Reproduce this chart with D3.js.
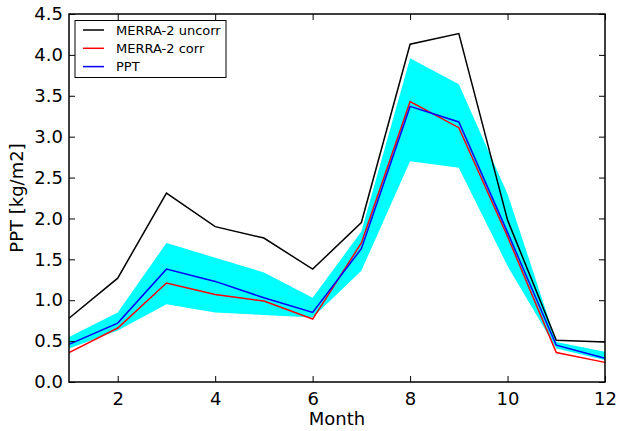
<!DOCTYPE html>
<html><head><meta charset="utf-8">
<script src="https://cdn.jsdelivr.net/npm/d3@7"></script>
<style>body{margin:0;background:#fff}svg{display:block}text{font-family:"DejaVu Sans",sans-serif}</style>
</head><body>
<svg id="c" width="620" height="431"></svg>
<script>
const months = [1,2,3,4,5,6,7,8,9,10,11,12];
const uncorr = [0.78,1.27,2.31,1.90,1.76,1.38,1.95,4.13,4.26,1.98,0.51,0.49];
const corr   = [0.36,0.66,1.21,1.07,0.99,0.77,1.70,3.43,3.11,1.78,0.36,0.24];
const ppt    = [0.46,0.72,1.38,1.23,1.03,0.85,1.63,3.37,3.18,1.83,0.45,0.29];
const bandHi = [0.55,0.85,1.70,1.52,1.34,1.03,1.84,3.96,3.64,2.30,0.49,0.37];
const bandLo = [0.41,0.63,0.95,0.85,0.82,0.79,1.36,2.70,2.62,1.42,0.41,0.27];
const xTicks = [2,4,6,8,10,12];
const yTicks = [0,0.5,1,1.5,2,2.5,3,3.5,4,4.5];
const legendItems = [["MERRA-2 uncorr","#000"],["MERRA-2 corr","#ff0000"],["PPT","#0000ff"]];

const L=69,R=605,T=14,B=382;
const svg=d3.select("#c");
const x=d3.scaleLinear().domain([1,12]).range([L,R]);
const y=d3.scaleLinear().domain([0,4.5]).range([B,T]);

svg.append("path").datum(months.map((m,i)=>i))
  .attr("d",d3.area().x(i=>x(months[i])).y0(i=>y(bandLo[i])).y1(i=>y(bandHi[i])))
  .attr("fill","#00ffff");

const line=arr=>d3.line().x((d,i)=>x(months[i])).y(d=>y(d))(arr);
[[uncorr,"#000"],[corr,"#ff0000"],[ppt,"#0000ff"]].forEach(([a,c])=>{
  svg.append("path").attr("d",line(a)).attr("fill","none").attr("stroke",c).attr("stroke-width",1.5).attr("stroke-linejoin","miter");
});

const ax=(g,axis)=>{g.call(axis);g.select(".domain").remove();g.selectAll("line").attr("stroke","#000").attr("stroke-width",1);};
svg.append("g").attr("transform",`translate(0,${B})`).call(g=>ax(g,d3.axisBottom(x).tickValues(xTicks).tickSize(-6).tickPadding(10).tickFormat(d3.format("d"))))
  .selectAll("text").attr("font-size",18).attr("fill","#000");
svg.append("g").attr("transform",`translate(0,${T})`).call(g=>ax(g,d3.axisTop(x).tickValues(xTicks).tickSize(-6).tickFormat("")));
svg.append("g").attr("transform",`translate(${L},0)`).call(g=>ax(g,d3.axisLeft(y).tickValues(yTicks).tickSize(-6).tickPadding(6).tickFormat(d3.format(".1f"))))
  .selectAll("text").attr("font-size",18).attr("fill","#000");
svg.append("g").attr("transform",`translate(${R},0)`).call(g=>ax(g,d3.axisRight(y).tickValues(yTicks).tickSize(-6).tickFormat("")));
svg.selectAll("g text").attr("font-family","DejaVu Sans");

svg.append("rect").attr("x",L).attr("y",T).attr("width",R-L).attr("height",B-T)
  .attr("fill","none").attr("stroke","#000").attr("stroke-width",1.5);

svg.append("text").attr("x",(L+R)/2).attr("y",425).attr("text-anchor","middle").attr("font-size",18).text("Month");
svg.append("text").attr("transform",`translate(23,${(T+B)/2}) rotate(-90)`).attr("text-anchor","middle").attr("font-size",18).text("PPT [kg/m2]");

const lg=svg.append("g");
lg.append("rect").attr("x",75).attr("y",20.5).attr("width",151).attr("height",57).attr("fill","#fff").attr("stroke","#000").attr("stroke-width",1);
legendItems.forEach(([t,c],i)=>{
  const yy=30+i*18.3;
  lg.append("line").attr("x1",83).attr("x2",104).attr("y1",yy).attr("y2",yy).attr("stroke",c).attr("stroke-width",1.5);
  lg.append("text").attr("x",116).attr("y",yy+4.5).attr("font-size",13).text(t);
});
</script>
</body></html>
